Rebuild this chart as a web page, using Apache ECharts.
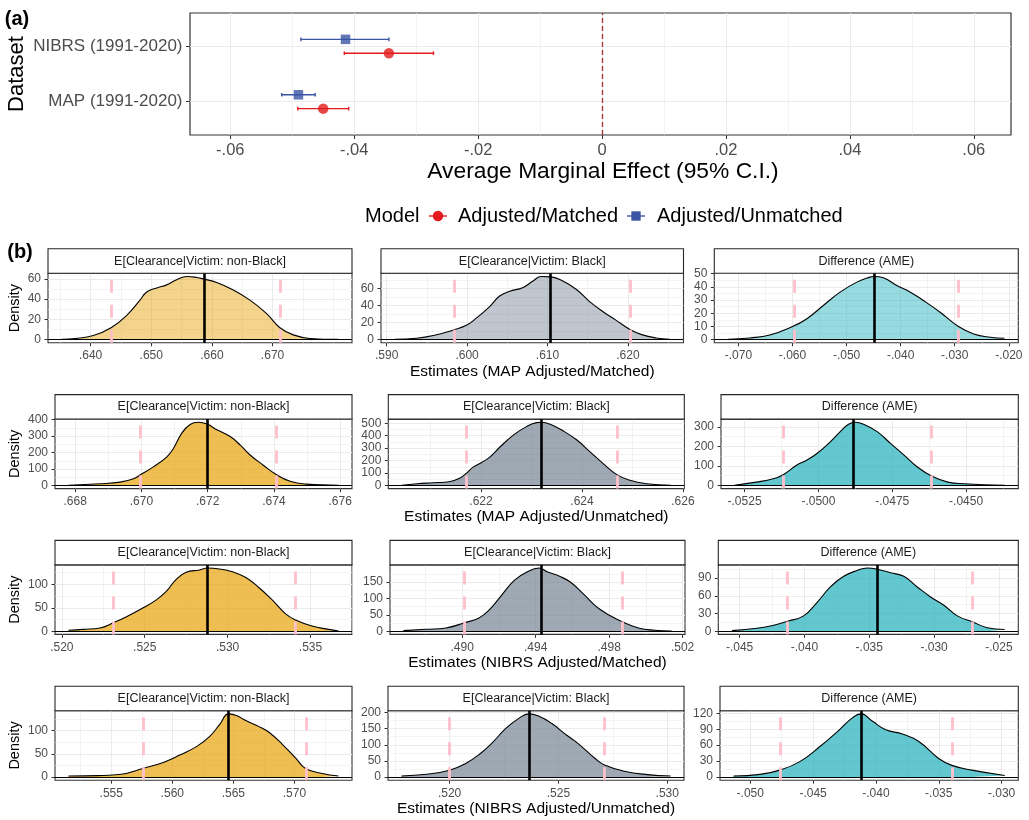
<!DOCTYPE html>
<html><head><meta charset="utf-8">
<script src="https://cdn.jsdelivr.net/npm/echarts@6/dist/echarts.min.js"></script>
<style>html,body{margin:0;padding:0;background:#fff}#c{width:1029px;height:820px}</style>
</head><body><div id="c"></div>
<script>
// ---------------- Panel (a) data ----------------
const datasets = ['MAP (1991-2020)', 'NIBRS (1991-2020)'];
const matchedEst = [-0.0450, -0.0344];
const matchedLo  = [-0.0491, -0.0416];
const matchedHi  = [-0.0409, -0.0272];
const unmatchedEst = [-0.0490, -0.0414];
const unmatchedLo  = [-0.0517, -0.0486];
const unmatchedHi  = [-0.0463, -0.0344];
const aeXTicks = ['-.06', '-.04', '-.02', '0', '.02', '.04', '.06'];
const aeXRange = [-0.0665, 0.066];
const modelNames = ['Adjusted/Matched', 'Adjusted/Unmatched'];

// ---------------- Panel (b) data ----------------
const facetNames = ['E[Clearance|Victim: non-Black]', 'E[Clearance|Victim: Black]', 'Difference (AME)'];
const rowTitles = ['Estimates (MAP Adjusted/Matched)', 'Estimates (MAP Adjusted/Unmatched)',
                   'Estimates (NIBRS Adjusted/Matched)', 'Estimates (NIBRS Adjusted/Unmatched)'];

// MAP Adjusted/Matched
const mapMatchedNonBlackX = [0.63526, 0.63745, 0.64046, 0.64338, 0.64596, 0.64815, 0.64926, 0.65091, 0.65255, 0.65420, 0.65585, 0.65750, 0.65870, 0.66079, 0.66353, 0.66628, 0.66903, 0.67122, 0.67341, 0.67616, 0.68082];
const mapMatchedNonBlackD = [0.3, 1.0, 4.0, 11.7, 24, 39, 47, 51, 54, 59, 62.3, 61.3, 59.7, 56.3, 49, 39, 25.7, 11.7, 4.7, 1.2, 0.3];
const mapMatchedBlackX = [0.5910, 0.5937, 0.5958, 0.5984, 0.5999, 0.6011, 0.6028, 0.6040, 0.6053, 0.6069, 0.6082, 0.6092, 0.6104, 0.6119, 0.6136, 0.6152, 0.6169, 0.6185, 0.6203, 0.6218, 0.6235, 0.6252];
const mapMatchedBlackD = [0.3, 1.6, 4.8, 11.6, 16.8, 24.8, 38.7, 50.7, 56.7, 60.7, 68.6, 73.9, 73.4, 68.6, 58.7, 44.7, 32.7, 22.8, 11.6, 5.6, 2.0, 0.3];
const mapMatchedDiffX = [-0.0719, -0.0679, -0.0642, -0.0600, -0.0574, -0.0543, -0.0512, -0.0481, -0.0457, -0.0449, -0.0432, -0.0407, -0.0382, -0.0358, -0.0327, -0.0293, -0.0265, -0.0234, -0.0208];
const mapMatchedDiffD = [0.3, 1.3, 3.5, 9.9, 15.7, 25.9, 36, 43.6, 47.4, 47.9, 46.9, 41.1, 36, 29.7, 20.8, 9.9, 4.3, 1.8, 1.0];
const mapMatchedMedian = [0.6587, 0.6104, -0.0448];
const mapMatchedLower  = [0.6434, 0.5984, -0.0597];
const mapMatchedUpper  = [0.6712, 0.6203, -0.0293];
const mapMatchedXTicks = [['.640', '.650', '.660', '.670'], ['.590', '.600', '.610', '.620'], ['-.070', '-.060', '-.050', '-.040', '-.030', '-.020']];
const mapMatchedYTicks = [[0, 20, 40, 60], [0, 20, 40, 60], [0, 10, 20, 30, 40, 50]];

// MAP Adjusted/Unmatched
const mapUnmatchedNonBlackX = [0.66780, 0.66875, 0.66936, 0.66976, 0.66998, 0.67036, 0.67077, 0.67097, 0.67122, 0.67147, 0.67172, 0.67198, 0.67228, 0.67268, 0.67298, 0.67328, 0.67368, 0.67407, 0.67449, 0.67499, 0.67595];
const mapUnmatchedNonBlackD = [1, 10, 20, 41, 66, 113, 174, 226, 318, 370, 384, 373, 338, 297, 246, 185, 123, 66, 25, 8, 1];
const mapUnmatchedBlackX = [0.62043, 0.62073, 0.62106, 0.62139, 0.62158, 0.62170, 0.62185, 0.62201, 0.62218, 0.62238, 0.62264, 0.62290, 0.62310, 0.62320, 0.62337, 0.62363, 0.62390, 0.62416, 0.62442, 0.62469, 0.62495, 0.62528, 0.62576];
const mapUnmatchedBlackD = [1, 14, 22, 32, 59, 95, 149, 184, 230, 311, 405, 473, 505, 508, 492, 438, 365, 270, 176, 87, 41, 14, 1];
const mapUnmatchedDiffX = [-0.05284, -0.05210, -0.05153, -0.05119, -0.05074, -0.05040, -0.05005, -0.04960, -0.04926, -0.04898, -0.04875, -0.04847, -0.04801, -0.04756, -0.04710, -0.04665, -0.04617, -0.04562, -0.04506, -0.04369];
const mapUnmatchedDiffD = [1, 17, 34, 55, 103, 129, 163, 223, 275, 313, 323, 313, 275, 215, 155, 94, 48, 17, 9, 1];
const mapUnmatchedMedian = [0.67198, 0.62319, -0.04881];
const mapUnmatchedLower  = [0.66998, 0.62170, -0.05119];
const mapUnmatchedUpper  = [0.67407, 0.62469, -0.04617];
const mapUnmatchedXTicks = [['.668', '.670', '.672', '.674', '.676'], ['.622', '.624', '.626'], ['-.0525', '-.0500', '-.0475', '-.0450']];
const mapUnmatchedYTicks = [[0, 100, 200, 300, 400], [0, 100, 200, 300, 400, 500], [0, 100, 200, 300]];

// NIBRS Adjusted/Matched
const nibrsMatchedNonBlackX = [0.52040, 0.52130, 0.52230, 0.52310, 0.52390, 0.52490, 0.52570, 0.52630, 0.52690, 0.52750, 0.52830, 0.52879, 0.52950, 0.53029, 0.53110, 0.53190, 0.53269, 0.53350, 0.53410, 0.53509, 0.53609, 0.53669];
const nibrsMatchedNonBlackD = [2, 4, 7, 18, 31, 50, 67, 85, 111, 126, 131, 135, 133, 127, 115, 93, 67, 37, 24, 11, 4, 0.5];
const nibrsMatchedBlackX = [0.48680, 0.48805, 0.48911, 0.49013, 0.49089, 0.49142, 0.49213, 0.49285, 0.49356, 0.49418, 0.49462, 0.49533, 0.49587, 0.49658, 0.49747, 0.49871, 0.49960, 0.50049, 0.50140];
const nibrsMatchedBlackD = [2, 6, 10, 26, 40, 62, 109, 156, 182, 193, 182, 167, 151, 115, 68, 29, 10, 3, 0.5];
const nibrsMatchedDiffX = [-0.04559, -0.04366, -0.04237, -0.04129, -0.04006, -0.03902, -0.03800, -0.03697, -0.03593, -0.03516, -0.03439, -0.03336, -0.03234, -0.03130, -0.03027, -0.02925, -0.02821, -0.02705, -0.02590, -0.02456];
const nibrsMatchedDiffD = [1, 5, 10, 17, 26, 49, 75, 93, 103, 107, 105, 99, 93, 75, 58, 44, 26, 16, 6, 3];
const nibrsMatchedMedian = [0.52879, 0.49432, -0.03439];
const nibrsMatchedLower  = [0.5231, 0.4901, -0.04129];
const nibrsMatchedUpper  = [0.5341, 0.4987, -0.02706];
const nibrsMatchedXTicks = [['.520', '.525', '.530', '.535'], ['.490', '.494', '.498', '.502'], ['-.045', '-.040', '-.035', '-.030', '-.025']];
const nibrsMatchedYTicks = [[0, 50, 100], [0, 50, 100, 150], [0, 30, 60, 90]];

// NIBRS Adjusted/Unmatched
const nibrsUnmatchedNonBlackX = [0.5515, 0.55392, 0.55581, 0.55759, 0.55932, 0.56066, 0.56201, 0.56309, 0.5639, 0.5646, 0.56525, 0.56606, 0.56714, 0.56794, 0.56903, 0.57011, 0.57091, 0.57227, 0.57361];
const nibrsUnmatchedNonBlackD = [2.2, 3, 6, 18.5, 32, 48, 66, 88, 114, 136, 132.5, 121, 108, 96, 70, 40.6, 18.5, 7.5, 2.2];
const nibrsUnmatchedBlackX = [0.51779, 0.51894, 0.52000, 0.52076, 0.52136, 0.52197, 0.52257, 0.52318, 0.52364, 0.52409, 0.52470, 0.52530, 0.52575, 0.52621, 0.52666, 0.52712, 0.52803, 0.52909, 0.53015];
const nibrsUnmatchedBlackD = [3.2, 8.5, 21, 43, 70, 107, 150, 182, 196, 189, 166, 134, 112, 86, 59, 37.5, 18, 7.6, 3.2];
const nibrsUnmatchedDiffX = [-0.05133, -0.04922, -0.04764, -0.04606, -0.04448, -0.04291, -0.04185, -0.04117, -0.04027, -0.03922, -0.03790, -0.03659, -0.03501, -0.03396, -0.03237, -0.02975];
const nibrsUnmatchedDiffD = [2, 5, 13, 29, 57, 89, 112, 119, 105, 89, 81, 67, 35, 22, 13, 3];
const nibrsUnmatchedMedian = [0.5646, 0.52364, -0.0412];
const nibrsUnmatchedLower  = [0.5576, 0.5200, -0.04764];
const nibrsUnmatchedUpper  = [0.5710, 0.52712, -0.03396];
const nibrsUnmatchedXTicks = [['.555', '.560', '.565', '.570'], ['.520', '.525', '.530'], ['-.050', '-.045', '-.040', '-.035', '-.030']];
const nibrsUnmatchedYTicks = [[0, 50, 100], [0, 50, 100, 150, 200], [0, 30, 60, 90, 120]];

// ---------------- assemble table ----------------
const rows = [
  {xs: [mapMatchedNonBlackX, mapMatchedBlackX, mapMatchedDiffX], ds: [mapMatchedNonBlackD, mapMatchedBlackD, mapMatchedDiffD],
   med: mapMatchedMedian, lo: mapMatchedLower, hi: mapMatchedUpper, xt: mapMatchedXTicks, yt: mapMatchedYTicks},
  {xs: [mapUnmatchedNonBlackX, mapUnmatchedBlackX, mapUnmatchedDiffX], ds: [mapUnmatchedNonBlackD, mapUnmatchedBlackD, mapUnmatchedDiffD],
   med: mapUnmatchedMedian, lo: mapUnmatchedLower, hi: mapUnmatchedUpper, xt: mapUnmatchedXTicks, yt: mapUnmatchedYTicks},
  {xs: [nibrsMatchedNonBlackX, nibrsMatchedBlackX, nibrsMatchedDiffX], ds: [nibrsMatchedNonBlackD, nibrsMatchedBlackD, nibrsMatchedDiffD],
   med: nibrsMatchedMedian, lo: nibrsMatchedLower, hi: nibrsMatchedUpper, xt: nibrsMatchedXTicks, yt: nibrsMatchedYTicks},
  {xs: [nibrsUnmatchedNonBlackX, nibrsUnmatchedBlackX, nibrsUnmatchedDiffX], ds: [nibrsUnmatchedNonBlackD, nibrsUnmatchedBlackD, nibrsUnmatchedDiffD],
   med: nibrsUnmatchedMedian, lo: nibrsUnmatchedLower, hi: nibrsUnmatchedUpper, xt: nibrsUnmatchedXTicks, yt: nibrsUnmatchedYTicks}
];

// ---------------- styles / layout ----------------
const FONT = '"Liberation Sans", Arial, Helvetica, sans-serif';
const TXT = '#4D4D4D', FRAME = '#333333', GRIDC = '#EBEBEB';
const RED = '#E41A1C', BLUE = '#3A55A4';
const fillColors = ['#E69F00', '#708090', '#19ACB8'];
const fillAlpha = [0.45, 0.68, 0.68, 0.68];
const panelTops = [273.3, 419.1, 564.9, 710.7];
const panelH = 69.5;
const stripH = 24.5;
const colLR = [
  [[48, 352], [381, 683.5], [714.3, 1018.3]],
  [[55, 352], [388.3, 684.3], [721, 1018.3]],
  [[55, 352], [390, 685], [718.3, 1018.3]],
  [[55, 352], [388, 684], [720, 1018.3]]
];

function fmt(labels) {
  const vals = labels.map(Number);
  return function (v) {
    for (let i = 0; i < vals.length; i++) if (Math.abs(vals[i] - v) < 1e-9) return labels[i];
    return '';
  };
}
function minorOf(vals, lo, hi) {
  if (vals.length < 2) return [];
  const step = vals[1] - vals[0];
  const all = [vals[0] - step / 2];
  for (let i = 1; i < vals.length; i++) all.push((vals[i] + vals[i - 1]) / 2);
  all.push(vals[vals.length - 1] + step / 2);
  all.push(vals[vals.length - 1] + step);
  all.push(vals[vals.length - 1] + 1.5 * step);
  return all.filter(v => v > lo && v < hi);
}
function majorAxis(dim, gi, range, labels, fontSize, margin, tickLen) {
  const vals = labels.map(Number);
  return {
    type: 'value', gridIndex: gi, min: range[0], max: range[1],
    position: dim === 'x' ? 'bottom' : 'left',
    axisLine: {show: false, onZero: false},
    axisTick: {show: true, length: tickLen, lineStyle: {color: FRAME, width: 1}, customValues: vals},
    axisLabel: {show: true, customValues: vals, formatter: fmt(labels), color: TXT, fontSize: fontSize,
                fontFamily: 'Liberation Sans', margin: margin},
    splitLine: {show: true, lineStyle: {color: GRIDC, width: 1}},
    minorTick: {show: false}, minorSplitLine: {show: false}
  };
}
function minorAxis(dim, gi, range, vals) {
  return {
    type: 'value', gridIndex: gi, min: range[0], max: range[1],
    position: dim === 'x' ? 'top' : 'right',
    axisLine: {show: false, onZero: false},
    axisTick: {show: false, customValues: vals},
    axisLabel: {show: false, customValues: vals},
    splitLine: {show: vals.length > 0, lineStyle: {color: GRIDC, width: 0.6}}
  };
}

const option = {animation: false, backgroundColor: '#fff', grid: [], xAxis: [], yAxis: [], series: [], graphic: []};
const G = option.graphic;
function text(x, y, s, font, fill, align, rot) {
  G.push({type: 'text', x: x, y: y, rotation: rot || 0, z: 10,
    style: {text: s, font: font, fill: fill, textAlign: align || 'center', textVerticalAlign: 'middle'}});
}

// ---------------- Panel (a) ----------------
option.grid.push({left: 190, top: 13, width: 821, height: 122, show: true, backgroundColor: '#fff',
  borderColor: FRAME, borderWidth: 1.2, containLabel: false, outerBoundsMode: 'none'});
option.xAxis.push(majorAxis('x', 0, aeXRange, aeXTicks, 16.5, 7, 4));
option.xAxis.push(minorAxis('x', 0, aeXRange, [-0.05, -0.03, -0.01, 0.01, 0.03, 0.05]));
const aeYRange = [0.4, datasets.length + 0.6];
const aeY = majorAxis('y', 0, aeYRange, datasets.map((d, i) => String(i + 1)), 17, 7.5, 4);
aeY.axisLabel.formatter = v => datasets[Math.round(v) - 1] || '';
option.yAxis.push(aeY);
option.yAxis.push(minorAxis('y', 0, aeYRange, []));
const dodge = 0.125;
function errSeries(lo, hi, off, color, name) {
  return {type: 'custom', name: name, xAxisIndex: 0, yAxisIndex: 0, silent: true, z: 3,
    data: lo.map((l, i) => [l, hi[i], i + 1 + off]),
    encode: {x: [0, 1], y: 2},
    renderItem: function (params, api) {
      const a = api.coord([api.value(0), api.value(2)]);
      const b = api.coord([api.value(1), api.value(2)]);
      const st = {stroke: color, lineWidth: 1.4};
      return {type: 'group', children: [
        {type: 'line', shape: {x1: a[0], y1: a[1], x2: b[0], y2: b[1]}, style: st},
        {type: 'line', shape: {x1: a[0], y1: a[1] - 1.8, x2: a[0], y2: a[1] + 1.8}, style: st},
        {type: 'line', shape: {x1: b[0], y1: b[1] - 1.8, x2: b[0], y2: b[1] + 1.8}, style: st}
      ]};
    }};
}
option.series.push(errSeries(unmatchedLo, unmatchedHi, dodge, BLUE, modelNames[1]));
option.series.push(errSeries(matchedLo, matchedHi, -dodge, RED, modelNames[0]));
option.series.push({type: 'scatter', name: modelNames[1], xAxisIndex: 0, yAxisIndex: 0, silent: true, z: 4,
  symbol: 'rect', symbolSize: 9.5, itemStyle: {color: BLUE},
  data: unmatchedEst.map((v, i) => [v, i + 1 + dodge]),
  markLine: {silent: true, symbol: ['none', 'none'], label: {show: false},
    data: [[{coord: [0, aeYRange[0]], lineStyle: {color: '#A83A3A', width: 1.4, type: [5, 3]}}, {coord: [0, aeYRange[1]]}]]}});
option.series.push({type: 'scatter', name: modelNames[0], xAxisIndex: 0, yAxisIndex: 0, silent: true, z: 4,
  symbol: 'circle', symbolSize: 10.5, itemStyle: {color: RED},
  data: matchedEst.map((v, i) => [v, i + 1 - dodge])});

text(17, 19, '(a)', 'bold 20px ' + FONT, '#000');
text(16.5, 74, 'Dataset', '22px ' + FONT, '#000', 'center', Math.PI / 2);
text(603, 171.5, 'Average Marginal Effect (95% C.I.)', '22.8px ' + FONT, '#000');

// legend
text(365, 216, 'Model', '20px ' + FONT, '#000', 'left');
G.push({type: 'line', shape: {x1: 429, y1: 216, x2: 447, y2: 216}, style: {stroke: RED, lineWidth: 1.4}, z: 10});
G.push({type: 'circle', shape: {cx: 438, cy: 216, r: 5.2}, style: {fill: RED}, z: 10});
text(458, 216, modelNames[0], '20px ' + FONT, '#000', 'left');
G.push({type: 'line', shape: {x1: 627, y1: 216, x2: 645, y2: 216}, style: {stroke: BLUE, lineWidth: 1.4}, z: 10});
G.push({type: 'rect', shape: {x: 631.3, y: 211.3, width: 9.4, height: 9.4}, style: {fill: BLUE}, z: 10});
text(657, 216, modelNames[1], '20px ' + FONT, '#000', 'left');

text(20, 252, '(b)', 'bold 20px ' + FONT, '#000');

// ---------------- Panel (b) ----------------
rows.forEach(function (row, r) {
  const top = panelTops[r];
  for (let c = 0; c < 3; c++) {
    const gi = option.grid.length;
    const L = colLR[r][c][0], R = colLR[r][c][1];
    option.grid.push({left: L, top: top, width: R - L, height: panelH, show: true, backgroundColor: '#fff',
      borderColor: FRAME, borderWidth: 1.1, containLabel: false, outerBoundsMode: 'none'});
    const xs = row.xs[c], ds = row.ds[c];
    const xmin = Math.min.apply(null, xs), xmax = Math.max.apply(null, xs), span = xmax - xmin;
    const xr = [xmin - 0.05 * span, xmax + 0.05 * span];
    const dmax = Math.max.apply(null, ds);
    const yr = [-0.05 * dmax, 1.05 * dmax];
    const xi = option.xAxis.length, yi = option.yAxis.length;
    option.xAxis.push(majorAxis('x', gi, xr, row.xt[c], 12, 7, 3.5));
    option.xAxis.push(minorAxis('x', gi, xr, minorOf(row.xt[c].map(Number), xr[0], xr[1])));
    const ylab = row.yt[c].map(String);
    option.yAxis.push(majorAxis('y', gi, yr, ylab, 12, 7, 3.5));
    option.yAxis.push(minorAxis('y', gi, yr, minorOf(row.yt[c], yr[0], yr[1]).filter(v => v < row.yt[c][row.yt[c].length - 1] + (row.yt[c][1] - row.yt[c][0]) * 0.75)));
    const vline = (v, st) => [{coord: [v, yr[0]], lineStyle: st}, {coord: [v, yr[1]]}];
    const pink = {color: '#FFC0CB', width: 2.8, type: [13, 12]};
    option.series.push({
      type: 'line', xAxisIndex: xi, yAxisIndex: yi, silent: true, z: 2,
      data: xs.map((x, i) => [x, ds[i]]),
      smooth: 0.45, showSymbol: false, symbol: 'none',
      lineStyle: {color: '#000', width: 1.1},
      areaStyle: {color: fillColors[c], opacity: fillAlpha[r]},
      markLine: {silent: true, symbol: ['none', 'none'], label: {show: false}, z: 5,
        data: [
          [{coord: [xr[0], 0], lineStyle: {color: '#000', width: 1.1, type: 'solid'}}, {coord: [xr[1], 0]}],
          vline(row.med[c], {color: '#000', width: 2.6, type: 'solid'}),
          vline(row.lo[c], pink),
          vline(row.hi[c], pink)
        ]}
    });
    // strip
    G.push({type: 'rect', shape: {x: L, y: top - stripH, width: R - L, height: stripH},
      style: {fill: '#fff', stroke: '#262626', lineWidth: 1.1}, z: 5});
    text((L + R) / 2, top - stripH / 2, facetNames[c], '12.5px ' + FONT, '#1A1A1A');
    if (c === 0) text(15, top + panelH / 2, 'Density', '14.5px ' + FONT, '#000', 'center', Math.PI / 2);
  }
  const mid = colLR[r][1];
  text((mid[0] + mid[1]) / 2, top + panelH + 28.5, rowTitles[r], '15.5px ' + FONT, '#000');
});

const chart = echarts.init(document.getElementById('c'), null, {renderer: 'canvas'});
chart.setOption(option);
</script>
</body></html>
